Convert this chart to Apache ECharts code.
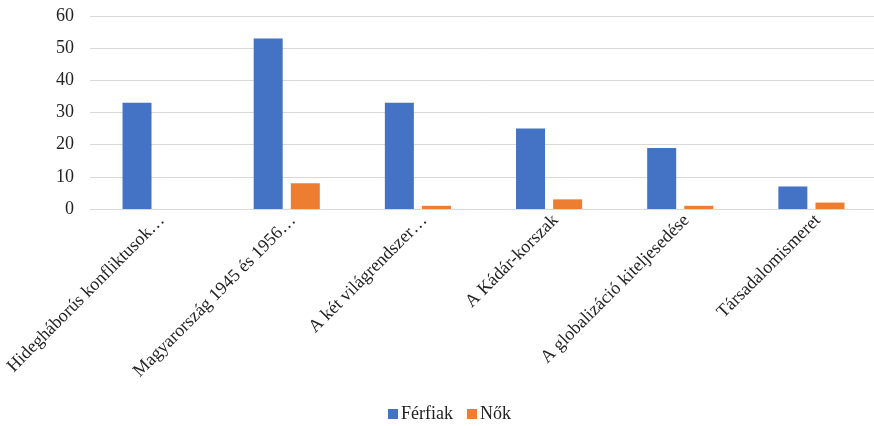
<!DOCTYPE html>
<html>
<head>
<meta charset="utf-8">
<script src="https://cdn.jsdelivr.net/npm/echarts@6/dist/echarts.min.js"></script>
<style>html,body{margin:0;padding:0;background:#fff}#c{width:874px;height:426px}</style>
</head>
<body>
<div id="c"></div>
<script>
const categories = ["Hidegháborús konfliktusok…", "Magyarország 1945 és 1956…", "A két világrendszer…", "A Kádár-korszak", "A globalizáció kiteljesedése", "Társadalomismeret"];
const ferfiak = [33, 53, 33, 25, 19, 7];
const nok = [0, 8, 1, 3, 1, 2];
const seriesNames = ["Férfiak", "Nők"];

const font = "Liberation Serif";
const chart = echarts.init(document.getElementById('c'));
chart.setOption({
  animation: false,
  textStyle: { fontFamily: font },
  grid: { left: 90, right: -3, top: 16, bottom: 217, containLabel: false, outerBoundsMode: 'none' },
  legend: {
    data: seriesNames,
    bottom: -2,
    left: 383,
    itemWidth: 10,
    itemHeight: 10,
    itemGap: 14,
    icon: 'rect',
    textStyle: { fontFamily: font, fontSize: 18, color: '#222', padding: [0, 0, 0, -2] }
  },
  xAxis: {
    type: 'category',
    data: categories,
    axisLine: { show: true, lineStyle: { color: '#d9d9d9', width: 1 } },
    axisTick: { show: false },
    axisLabel: { rotate: 45, interval: 0, fontSize: 18, color: '#222', fontFamily: font, margin: 15, padding: [18, -9, 0, 0] }
  },
  yAxis: {
    type: 'value',
    min: 0, max: 60, interval: 10,
    axisLine: { show: false },
    axisTick: { show: false },
    splitLine: { lineStyle: { color: '#d9d9d9', width: 1 } },
    axisLabel: { fontSize: 18, color: '#222', fontFamily: font, margin: 16 }
  },
  series: [
    { name: seriesNames[0], type: 'bar', data: ferfiak, barWidth: 29, barGap: '28%', itemStyle: { color: '#4472C4' } },
    { name: seriesNames[1], type: 'bar', data: nok, barWidth: 29, itemStyle: { color: '#ED7D31' } }
  ]
});
</script>
</body>
</html>
